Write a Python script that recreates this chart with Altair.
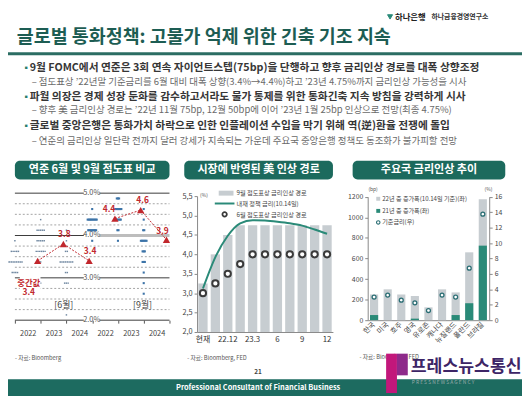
import altair as alt
import pandas as pd

FONT = "Noto Sans CJK KR"
W, H = 522, 391
OFF = 8


def X(v):
    return v - OFF


def Y(v):
    return v - OFF


TEAL = "#1c6a5d"
TEAL_LINE = "#2a8a78"
GRAY_BAR = "#c7cdd1"
RED = "#c1272d"
TXT = "#333333"

# ---------------- data ----------------
title = "글로벌 통화정책: 고물가 억제 위한 긴축 기조 지속"
bullets = [
    "9월 FOMC에서 연준은 3회 연속 자이언트스텝(75bp)을 단행하고 향후 금리인상 경로를 대폭 상향조정",
    "파월 의장은 경제 성장 둔화를 감수하고서라도 물가 통제를 위한 통화긴축 지속 방침을 강력하게 시사",
    "글로벌 중앙은행은 통화가치 하락으로 인한 인플레이션 수입을 막기 위해 역(逆)환율 전쟁에 돌입",
]
subs = [
    "– 점도표상 ’22년말 기준금리를 6월 대비 대폭 상향(3.4%→4.4%)하고 ’23년 4.75%까지 금리인상 가능성을 시사",
    "– 향후 美 금리인상 경로는 ’22년 11월 75bp, 12월 50bp에 이어 ’23년 1월 25bp 인상으로 전망(최종 4.75%)",
    "– 연준의 금리인상 일단락 전까지 달러 강세가 지속되는 가운데 주요국 중앙은행 정책도 동조화가 불가피할 전망",
]
panel_titles = ["연준 6월 및 9월 점도표 비교", "시장에 반영된 美 인상 경로", "주요국 금리인상 추이"]

# Panel 1: dot plot (year|meeting) -> [(rate, number of participants)]
p1_cols = ["2022|6월", "2023|6월", "2024|6월", "2022|9월", "2023|9월", "2024|9월"]
dots_june = {
    "2022|6월": [(3.875, 1), (3.625, 5), (3.375, 9), (3.125, 4)],
    "2023|6월": [(4.375, 1), (4.125, 5), (3.875, 5), (3.625, 6), (3.375, 1), (2.875, 1)],
    "2024|6월": [(4.125, 1), (3.875, 1), (3.625, 2), (3.375, 8), (3.125, 2), (2.875, 3), (2.375, 1), (2.125, 1)],
}
dots_sept = {
    "2022|9월": [(4.625, 1), (4.375, 9), (4.125, 8), (3.875, 1)],
    "2023|9월": [(4.875, 3), (4.625, 7), (4.375, 6), (4.125, 2), (3.875, 1)],
    "2024|9월": [(4.625, 1), (4.375, 1), (4.125, 2), (3.875, 6), (3.625, 3), (3.375, 3), (3.125, 1), (2.875, 1), (2.625, 1)],
}
medians = [3.4, 3.8, 3.4, 4.4, 4.6, 3.9]
median_group = ["6월", "6월", "6월", "9월", "9월", "9월"]
p1_major = [2.0, 3.0, 4.0, 5.0]
p1_minor = [2.25, 2.5, 2.75, 3.25, 3.5, 3.75, 4.25, 4.5, 4.75]

# Panel 2
p2_cats = ["현재", "22.11", "22.12", "23.2", "23.3", "23.5", "23.6", "23.7", "23.9", "23.11", "23.12"]
p2_labels = {"현재": "현재", "22.12": "22.12", "23.3": "23.3", "23.6": "6", "23.9": "9", "23.12": "12"}
sep_path = [3.25, 4.0, 4.5, 4.75, 4.75, 4.75, 4.75, 4.75, 4.75, 4.75, 4.75]
implied = [3.12, 3.93, 4.48, 4.80, 4.88, 4.87, 4.84, 4.80, 4.74, 4.64, 4.53]
june_path = [3.0, 3.25, 3.5, 3.75, 4.0, 4.0, 4.0, 4.0, 4.0, 4.0, 4.0]
p2_yticks = [2.0, 2.5, 3.0, 3.5, 4.0, 4.5, 5.0, 5.5]

# Panel 3
countries = ["한국", "미국", "호주", "영국", "유로존", "캐나다", "뉴질랜드", "폴란드", "브라질"]
inc_2021 = [50, 0, 0, 15, 0, 0, 50, 165, 725]
inc_2022 = [200, 300, 250, 220, 125, 300, 220, 495, 450]
policy_rate = [3.0, 3.25, 2.6, 2.25, 1.25, 3.25, 3.0, 6.75, 13.75]
p3_left_ticks = [0, 200, 400, 600, 800, 1000, 1200]
p3_right_ticks = [0, 2, 4, 6, 8, 10, 12, 14, 16]

# ---------------- helpers ----------------
BLANK = pd.DataFrame({"_": [0]})
layers = []


def text(x, y, s, size, color=TXT, weight="normal", align="left", baseline="middle", **kw):
    layers.append(
        alt.Chart(BLANK)
        .mark_text(text=s, align=align, baseline=baseline, fontSize=size, fontWeight=weight,
                   color=color, font=FONT, **kw)
        .encode(x=alt.value(X(x)), y=alt.value(Y(y)))
    )


def rect(x1, y1, x2, y2, color, radius=0):
    kw = dict(color=color)
    if radius:
        kw["cornerRadius"] = radius
    layers.append(
        alt.Chart(BLANK).mark_rect(**kw)
        .encode(x=alt.value(X(x1)), x2=alt.value(X(x2)), y=alt.value(Y(y1)), y2=alt.value(Y(y2)))
    )


def rule(x1, y1, x2, y2, color, width=1.0, dash=None):
    kw = dict(color=color, strokeWidth=width)
    if dash:
        kw["strokeDash"] = dash
    layers.append(
        alt.Chart(BLANK).mark_rule(**kw)
        .encode(x=alt.value(X(x1)), x2=alt.value(X(x2)), y=alt.value(Y(y1)), y2=alt.value(Y(y2)))
    )


def point(x, y, size, fill, stroke, sw=1.0, shape="circle"):
    layers.append(
        alt.Chart(BLANK).mark_point(shape=shape, size=size, fill=fill, stroke=stroke, strokeWidth=sw,
                                    opacity=1, fillOpacity=1)
        .encode(x=alt.value(X(x)), y=alt.value(Y(y)))
    )


# ---------------- header ----------------
text(17, 34, title, 18.7, color="#1d5d53", weight="bold")
point(396, 14, 26, "#2a8a78", "#2a8a78", shape="triangle-down")
text(401, 14, "하나은행", 8.5, color="#222", weight="bold")
text(438, 14.5, "하나금융경영연구소", 7, color="#333", weight="bold")
rect(0, 50, 530, 53, "#2b6d63")

bullet_y = [66, 95, 125]
sub_y = [80, 109, 140]
for by, sy, b, s in zip(bullet_y, sub_y, bullets, subs):
    text(22, by, "▪", 9, color="#2b7d6e")
    text(30, by, b, 10.9, color="#363636", weight="bold")
    text(32, sy, s, 9.6, color="#6a6a6a")

# panel header boxes
boxes = [(15, 172), (187, 338), (358, 513)]
for (bx1, bx2), t in zip(boxes, panel_titles):
    rect(bx1, 160, bx2, 179, TEAL, radius=5)
    text((bx1 + bx2) / 2, 169.5, t, 11.2, color="white", weight="bold", align="center")

# ---------------- panel 1: dot plot ----------------
p1_y = dict(domain=[2.0, 5.0], range=[Y(322), Y(193)], zero=False, nice=False)
p1_x = dict(type="band", domain=p1_cols, range=[X(15), X(172)], paddingInner=0, paddingOuter=0)
p1_x_tri = dict(type="band", domain=p1_cols, range=[X(25), X(182)], paddingInner=0, paddingOuter=0)

layers.append(
    alt.Chart(pd.DataFrame({"lv": p1_minor})).mark_rule(color="#8c8c8c", strokeWidth=0.8, strokeDash=[2, 2])
    .encode(y=alt.Y("lv:Q", scale=alt.Scale(**p1_y), axis=None), x=alt.value(X(15)), x2=alt.value(X(172)))
)
layers.append(
    alt.Chart(pd.DataFrame({"lv": p1_major})).mark_rule(color="#3a3a3a", strokeWidth=1)
    .encode(y=alt.Y("lv:Q", scale=alt.Scale(**p1_y), axis=None), x=alt.value(X(15)), x2=alt.value(X(85)))
)
layers.append(
    alt.Chart(pd.DataFrame({"lv": [v for v in p1_major if v != 4.0]})).mark_rule(color="#3a3a3a", strokeWidth=1)
    .encode(y=alt.Y("lv:Q", scale=alt.Scale(**p1_y), axis=None), x=alt.value(X(101)), x2=alt.value(X(172)))
)
layers.append(
    alt.Chart(pd.DataFrame({"lv": [4.0]})).mark_rule(color="#bdbdbd", strokeWidth=3)
    .encode(y=alt.Y("lv:Q", scale=alt.Scale(**p1_y), axis=None), x=alt.value(X(101)), x2=alt.value(X(172)))
)
layers.append(
    alt.Chart(pd.DataFrame({"lv": p1_major}))
    .transform_calculate(lab="format(datum.lv, '.1f') + '%'")
    .mark_text(fontSize=7.5, color="#555", font=FONT, align="center", baseline="middle")
    .encode(y=alt.Y("lv:Q", scale=alt.Scale(**p1_y), axis=None), x=alt.value(X(93)), text="lab:N")
)


def expand(d):
    rows = []
    for col, lst in d.items():
        for rate, n in lst:
            for i in range(n):
                rows.append({"col": col, "rate": rate, "k": i - (n - 1) / 2})
    return pd.DataFrame(rows)


layers.append(
    alt.Chart(expand(dots_june)).mark_square(size=2.2, color="#6f87a0", opacity=1)
    .encode(
        x=alt.X("col:N", scale=alt.Scale(**p1_x),
                axis=alt.Axis(orient="bottom", offset=-(H - Y(322)), domain=False, ticks=True,
                              tickBand="extent", tickSize=3, tickColor="#555",
                              labelExpr="isString(datum.value) ? substring(datum.value, 0, 4) : ''",
                              labelFontSize=7.5, labelColor="#444", labelPadding=7, labelAngle=0,
                              title=None, grid=False)),
        xOffset=alt.XOffset("k:Q", scale=alt.Scale(domain=[-10, 10], range=[-18, 18])),
        y=alt.Y("rate:Q", scale=alt.Scale(**p1_y), axis=None),
    )
)
layers.append(
    alt.Chart(expand(dots_sept)).mark_square(size=4.5, color="#3d74a8", opacity=1)
    .encode(
        x=alt.X("col:N", scale=alt.Scale(**p1_x), axis=None),
        xOffset=alt.XOffset("k:Q", scale=alt.Scale(domain=[-10, 10], range=[-11.5, 11.5])),
        y=alt.Y("rate:Q", scale=alt.Scale(**p1_y), axis=None),
    )
)

med_df = pd.DataFrame({"col": p1_cols, "med": medians, "grp": median_group})
layers.append(
    alt.Chart(med_df).mark_line(color=RED, strokeWidth=1, strokeDash=[2, 1.5])
    .encode(x=alt.X("col:N", scale=alt.Scale(**p1_x_tri), axis=None),
            y=alt.Y("med:Q", scale=alt.Scale(**p1_y), axis=None), detail="grp:N")
)
layers.append(
    alt.Chart(med_df).mark_point(shape="triangle-up", filled=True, color=RED, size=55, opacity=1)
    .encode(x=alt.X("col:N", scale=alt.Scale(**p1_x_tri), axis=None),
            y=alt.Y("med:Q", scale=alt.Scale(**p1_y), axis=None))
)
# white patch behind the "중간값" call-out (breaks the 3.0% line as in the original)
rect(20, 276, 41, 294, "white")
label_offsets = {
    "2022|6월": (-9, 22),
    "2023|6월": (1, -10),
    "2024|6월": (1, -10),
    "2022|9월": (-6, -10),
    "2023|9월": (2, -10),
    "2024|9월": (-4, -9),
}
for col, m in zip(p1_cols, medians):
    dx, dy = label_offsets[col]
    lab = f"중간값\n{m}" if col == "2022|6월" else f"{m}"
    layers.append(
        alt.Chart(pd.DataFrame({"col": [col], "med": [m], "lab": [lab]}))
        .mark_text(color=RED, fontSize=8.5, fontWeight="bold", font=FONT, dx=dx, dy=dy,
                   align="center", baseline="middle", lineBreak="\n", lineHeight=10)
        .encode(x=alt.X("col:N", scale=alt.Scale(**p1_x_tri), axis=None),
                y=alt.Y("med:Q", scale=alt.Scale(**p1_y), axis=None), text="lab:N")
    )
text(55, 307, "[6월]", 9, color="#444")
text(135, 307, "[9월]", 9, color="#444")
text(15, 360, "- 자료: Bloomberg", 5.8, color="#555")

# ---------------- panel 2: market implied path ----------------
p2_x = dict(type="band", domain=p2_cats, range=[X(200), X(338)], paddingInner=0.25, paddingOuter=0.1)
p2_y = dict(domain=[2.0, 5.5], range=[Y(334), Y(196)], zero=False, nice=False)
df2 = pd.DataFrame({"cat": p2_cats, "sep": sep_path, "implied": implied, "june": june_path})
lab_expr = "''"
for k in reversed(p2_cats):
    if k in p2_labels:
        lab_expr = f"datum.value == '{k}' ? '{p2_labels[k]}' : " + lab_expr

layers.append(
    alt.Chart(df2).mark_bar(color=GRAY_BAR)
    .encode(
        x=alt.X("cat:N", sort=None, scale=alt.Scale(**p2_x),
                axis=alt.Axis(orient="bottom", offset=-(H - Y(334)), domainColor="#888", ticks=False,
                              labelExpr=lab_expr, labelFontSize=8, labelColor="#333", labelPadding=4,
                              labelAngle=0, title=None, grid=False)),
        y=alt.Y("sep:Q", scale=alt.Scale(**p2_y),
                axis=alt.Axis(orient="left", offset=-X(200), values=p2_yticks, tickSize=3,
                              tickColor="#888", domainColor="#888",
                              labelExpr="replace(format(datum.value, '.1f'), '.', ',')",
                              labelFontSize=7.5, labelColor="#444", labelPadding=2, title=None,
                              grid=False)),
        y2=alt.Y2Datum(2.0),
    )
)
layers.append(
    alt.Chart(df2).mark_line(color=TEAL_LINE, strokeWidth=2, interpolate="monotone")
    .encode(x=alt.X("cat:N", sort=None, scale=alt.Scale(**p2_x), axis=None),
            y=alt.Y("implied:Q", scale=alt.Scale(**p2_y), axis=None))
)
layers.append(
    alt.Chart(df2).mark_point(shape="circle", size=40, fill="white", stroke="#3a3a3a", strokeWidth=2,
                              opacity=1, fillOpacity=1)
    .encode(x=alt.X("cat:N", sort=None, scale=alt.Scale(**p2_x), axis=None),
            y=alt.Y("june:Q", scale=alt.Scale(**p2_y), axis=None))
)
text(203, 195, "(%)", 5, color="#555")
rect(222, 190.5, 237, 195.5, GRAY_BAR)
text(240, 193, "9월 점도표상 금리인상 경로", 6.3, color="#444")
rule(218, 203.5, 238, 203.5, TEAL_LINE, 2)
text(240, 204, "내재 정책 금리(10.14일)", 6.3, color="#444")
point(228, 214.5, 20, "white", "#3a3a3a", 1.8)
text(240, 215, "6월 점도표상 금리인상 경로", 6.3, color="#444")
text(190, 360, "- 자료: Bloomberg, FED", 5.8, color="#555")

# ---------------- panel 3: policy rate hikes ----------------
p3_x = dict(type="band", domain=countries, range=[X(373.3), X(496.7)], paddingInner=0.4, paddingOuter=0.17)
p3_yl = dict(domain=[0, 1200], range=[Y(322), Y(196.7)], nice=False)
p3_yr = dict(domain=[0, 16], range=[Y(322), Y(196.7)], nice=False)
df3 = pd.DataFrame({"country": countries, "inc21": inc_2021, "inc22": inc_2022, "rate": policy_rate})

layers.append(
    alt.Chart(df3).transform_calculate(total="datum.inc21 + datum.inc22").mark_bar(color=GRAY_BAR)
    .encode(
        x=alt.X("country:N", sort=None, scale=alt.Scale(**p3_x),
                axis=alt.Axis(orient="bottom", offset=-(H - Y(322)), domainColor="#888", ticks=False,
                              labelAngle=-45, labelAlign="right", labelBaseline="middle",
                              labelFontSize=7.3, labelColor="#444", labelPadding=3, title=None, grid=False)),
        y=alt.Y("total:Q", scale=alt.Scale(**p3_yl),
                axis=alt.Axis(orient="left", offset=-X(373.3), values=p3_left_ticks, tickSize=3,
                              tickColor="#888", domainColor="#888", labelFontSize=7, format="d",
                              labelColor="#444", labelPadding=2, title=None, grid=False)),
    )
)
layers.append(
    alt.Chart(df3).mark_bar(color=TEAL_LINE)
    .encode(x=alt.X("country:N", sort=None, scale=alt.Scale(**p3_x), axis=None),
            y=alt.Y("inc21:Q", scale=alt.Scale(**p3_yl), axis=None))
)
layers.append(
    alt.Chart(df3).mark_point(shape="circle", size=16, fill="white", stroke="#2b6e74", strokeWidth=1.3,
                              opacity=1, fillOpacity=1)
    .encode(x=alt.X("country:N", sort=None, scale=alt.Scale(**p3_x), axis=None),
            y=alt.Y("rate:Q", scale=alt.Scale(**p3_yr),
                    axis=alt.Axis(orient="right", offset=X(496.7) - W, values=p3_right_ticks,
                                  tickSize=3, tickColor="#888", domainColor="#888", labelFontSize=7,
                                  labelColor="#444", labelPadding=2, title=None, grid=False)))
)
text(374, 189, "(bp)", 5, color="#555")
text(492, 189, "(%)", 5, color="#555")
rect(382, 196.7, 386, 200.7, GRAY_BAR)
text(388, 198.7, "22년 중 증가폭(10.14일 기준)(좌)", 6.2, color="#444")
rect(382, 209, 386, 213, TEAL_LINE)
text(388, 211, "21년 중 증가폭(좌)", 6.2, color="#444")
point(384, 222.7, 12, "white", "#2b6e74", 1.1)
text(388, 222.7, "기준금리(우)", 6.2, color="#444")
text(365, 359, "- 자료: Bloomberg, FED", 5.8, color="#555")

# ---------------- footer ----------------
text(262, 375, "21", 6.5, color="#444", weight="bold", align="center")
rect(0, 382, 530, 399, "#1d6b60")
text(262, 391, "Professional Consultant of Financial Business", 7.5, color="white", weight="bold",
     align="center")
rect(392, 356, 403, 396, "#c2177b")
rect(403, 356, 414, 378, "#8e2a8a")
text(417, 369.5, "프레스뉴스통신", 17.5, color="#3d2566", weight="bold")
text(418, 385, "P R E S S   N E W S   A G E N C Y", 5, color="#9aa")

chart = (
    alt.layer(*layers)
    .resolve_scale(x="independent", y="independent", xOffset="independent")
    .properties(width=W, height=H, padding=0, autosize=alt.AutoSizeParams(type="none"),
                background="white")
    .configure(font=FONT)
    .configure_axis(labelFont=FONT, titleFont=FONT)
    .configure_view(strokeWidth=0)
)
chart.save("out.html", embed_options={"renderer": "svg", "actions": False})
